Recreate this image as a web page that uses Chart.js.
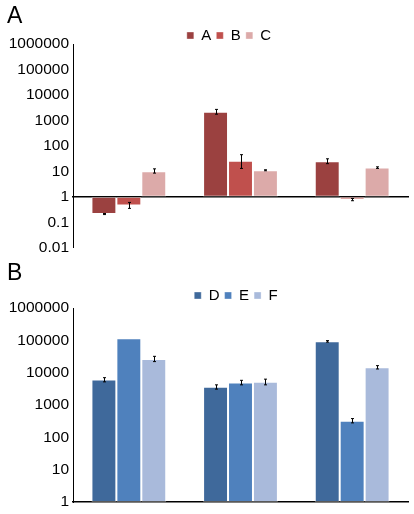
<!DOCTYPE html>
<html><head><meta charset="utf-8">
<script src="https://cdn.jsdelivr.net/npm/chart.js@4"></script>
<style>
html,body{margin:0;padding:0;background:#fff;width:414px;height:514px;overflow:hidden;font-family:"Liberation Sans",Arial,sans-serif;}
.wrap{position:absolute;left:0;width:414px;}
.lbl{position:absolute;left:7px;font-size:23px;line-height:1;color:#000;}
</style></head><body>
<div class="wrap" style="top:0;height:258px"><canvas id="ca"></canvas></div>
<div class="wrap" style="top:256px;height:258px"><canvas id="cb"></canvas></div>
<div class="lbl" style="top:4px">A</div>
<div class="lbl" style="top:261px">B</div>
<script>
const categories = ["", "", ""];
const tickValues = [0.01, 0.1, 1, 10, 100, 1000, 10000, 100000, 1000000];
const tickValuesB = [1, 10, 100, 1000, 10000, 100000, 1000000];

const seriesA = [0.21, 2200, 25];
const seriesA_lo = [0.20, 1750, 20];
const seriesA_hi = [0.22, 2700, 31];
const seriesB = [0.45, 26, 0.78];
const seriesB_lo = [0.35, 13, 0.70];
const seriesB_hi = [0.60, 45, 0.86];
const seriesC = [10, 11, 14];
const seriesC_lo = [8.5, 10.5, 13];
const seriesC_hi = [12.5, 11.5, 15];

const seriesD = [6100, 3650, 93000];
const seriesD_lo = [5200, 3100, 88000];
const seriesD_hi = [7000, 4200, 98000];
const seriesE = [115000, 4950, 325];
const seriesE_lo = [115000, 4200, 280];
const seriesE_hi = [115000, 5800, 380];
const seriesF = [26700, 5200, 14700];
const seriesF_lo = [22000, 4200, 13000];
const seriesF_hi = [32000, 6300, 16500];

const FONT = "'Liberation Sans', Arial, sans-serif";

const errPlugin = {
  id: 'errbars',
  afterDatasetsDraw(chart) {
    const ctx = chart.ctx, ys = chart.scales.y;
    ctx.save();
    ctx.strokeStyle = '#000'; ctx.lineWidth = 1;
    chart.data.datasets.forEach((ds, di) => {
      const meta = chart.getDatasetMeta(di);
      meta.data.forEach((bar, i) => {
        const lo = ds.errLo[i], hi = ds.errHi[i];
        if (lo === hi) return;
        const x = Math.round(bar.x) + 0.5;
        const y1 = ys.getPixelForValue(lo), y2 = ys.getPixelForValue(hi);
        ctx.beginPath();
        ctx.moveTo(x, y1); ctx.lineTo(x, y2);
        ctx.moveTo(x - 1.5, y1); ctx.lineTo(x + 1.5, y1);
        ctx.moveTo(x - 1.5, y2); ctx.lineTo(x + 1.5, y2);
        ctx.stroke();
      });
    });
    ctx.restore();
  }
};

function legendMover(top, dx) {
  return {
    id: 'legendMover',
    beforeLayout(chart) {
      const L = chart.legend;
      if (L && !L._patched) {
        const orig = L.fit;
        L.fit = function () { orig.call(this); this._realH = this.height; this.height = 0; };
        L._patched = true;
      }
    },
    afterLayout(chart) {
      const L = chart.legend;
      const h = L._realH || 0;
      L.top = top; L.bottom = top + h; L.height = h;
      L.left += dx; L.right += dx;
    }
  };
}

function makeDs(label, vals, lo, hi, color) {
  return {
    label, data: vals.map(v => [1, v]), errLo: lo, errHi: hi,
    backgroundColor: color, borderColor: 'rgba(255,255,255,0.35)', borderWidth: 1, borderSkipped: false,
    barPercentage: 1.0, categoryPercentage: 0.67
  };
}

function makeOpts(ticks, min, padTop, padBottom) {
  return {
    responsive: true, maintainAspectRatio: false, animation: false,
    layout: { padding: { left: 0, right: 6, top: padTop, bottom: padBottom } },
    plugins: {
      legend: {
        position: 'top', align: 'center',
        labels: { font: { family: FONT, size: 15 }, color: '#000', boxWidth: 7, boxHeight: 7, padding: 5 }
      },
      tooltip: { enabled: false }
    },
    scales: {
      x: {
        position: { y: 1 },
        grid: { display: false, drawTicks: false },
        border: { display: true, color: '#000', width: 1.5 },
        ticks: { display: false }
      },
      y: {
        type: 'logarithmic', min: min, max: 1000000,
        afterBuildTicks(s) { s.ticks = ticks.map(v => ({ value: v })); },
        afterFit(s) { s.width = 73; },
        grid: { display: false, drawTicks: true, tickLength: 3, tickColor: '#000' },
        border: { display: true, color: '#000', width: 1 },
        ticks: { font: { family: FONT, size: 15.5 }, color: '#000', padding: 1,
          callback: v => String(v) }
      }
    }
  };
}

new Chart(document.getElementById('ca'), {
  type: 'bar',
  data: { labels: categories, datasets: [
    makeDs('A', seriesA, seriesA_lo, seriesA_hi, '#9b4140'),
    makeDs('B', seriesB, seriesB_lo, seriesB_hi, '#c0504d'),
    makeDs('C', seriesC, seriesC_lo, seriesC_hi, '#dcaaa9')
  ]},
  options: makeOpts(tickValues, 0.01, 44, 0),
  plugins: [errPlugin, legendMover(23, 25)]
});

new Chart(document.getElementById('cb'), {
  type: 'bar',
  data: { labels: categories, datasets: [
    makeDs('D', seriesD, seriesD_lo, seriesD_hi, '#3f699b'),
    makeDs('E', seriesE, seriesE_lo, seriesE_hi, '#4f81bd'),
    makeDs('F', seriesF, seriesF_lo, seriesF_hi, '#a9badb')
  ]},
  options: makeOpts(tickValuesB, 1, 52, 12),
  plugins: [errPlugin, legendMover(27, 32)]
});
</script>
</body></html>
